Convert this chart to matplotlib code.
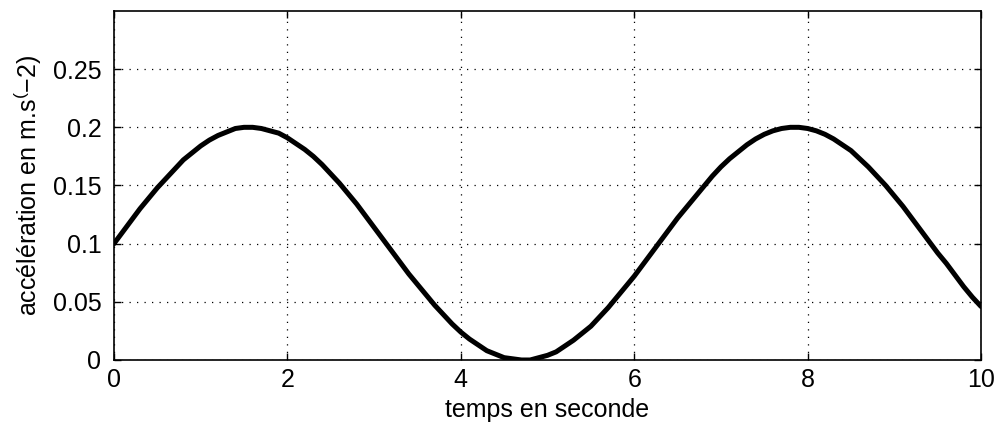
import numpy as np
import matplotlib.pyplot as plt

# temps (s), pas de 0.1 s, et accélération
temps = np.linspace(0, 10, 101)
accel = [0.100, 0.110, 0.120, 0.130, 0.139, 0.148, 0.156, 0.164, 0.172, 0.178,
         0.184, 0.189, 0.193, 0.196, 0.199, 0.200, 0.200, 0.199, 0.197, 0.195,
         0.191, 0.186, 0.181, 0.175, 0.168, 0.160, 0.152, 0.143, 0.134, 0.124,
         0.114, 0.104, 0.094, 0.084, 0.074, 0.065, 0.056, 0.047, 0.039, 0.031,
         0.024, 0.018, 0.013, 0.008, 0.005, 0.002, 0.001, 0.000, 0.000, 0.002,
         0.004, 0.007, 0.012, 0.017, 0.023, 0.029, 0.037, 0.045, 0.054, 0.063,
         0.072, 0.082, 0.092, 0.102, 0.112, 0.122, 0.131, 0.140, 0.149, 0.158,
         0.166, 0.173, 0.179, 0.185, 0.190, 0.194, 0.197, 0.199, 0.200, 0.200,
         0.199, 0.197, 0.194, 0.190, 0.185, 0.180, 0.173, 0.166, 0.158, 0.150,
         0.141, 0.132, 0.122, 0.112, 0.102, 0.092, 0.083, 0.073, 0.063, 0.054,
         0.046]

xticks = [0, 2, 4, 6, 8, 10]
yticks = [0, 0.05, 0.1, 0.15, 0.2, 0.25]
ytick_labels = ["0", "0.05", "0.1", "0.15", "0.2", "0.25"]

plt.rcParams["font.family"] = ["Liberation Sans", "DejaVu Sans"]
plt.rcParams["mathtext.fontset"] = "custom"
plt.rcParams["mathtext.rm"] = "Liberation Sans"

fig = plt.figure(figsize=(9.97, 4.28), dpi=100)
ax = fig.add_axes([0.1143, 0.1589, 0.8697, 0.8154])

ax.plot(temps, accel, color="black", linewidth=3.6, solid_capstyle="round",
        solid_joinstyle="round")

ax.set_xlim(0, 10)
ax.set_ylim(0, 0.3)
ax.set_xticks(xticks)
ax.set_xticklabels([str(t) for t in xticks])
ax.set_yticks(yticks)
ax.set_yticklabels(ytick_labels)
ax.tick_params(direction="in", top=True, right=True, labelsize=18,
               length=5, width=1, pad=6)
ax.tick_params(axis="y", pad=9)
ax.grid(True, linestyle=(0, (1, 5)), color="black", linewidth=0.9)
for s in ax.spines.values():
    s.set_linewidth(1.2)

ax.set_xlabel("temps en seconde", fontsize=18, labelpad=4)
ax.set_ylabel("accélération en m.s$^{(}$\u22122)", fontsize=18, labelpad=6)

fig.savefig("out.png", dpi=100)
